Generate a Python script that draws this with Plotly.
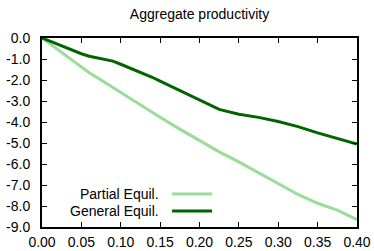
import plotly.graph_objects as go

x_vals = [0.0, 0.025, 0.05, 0.06, 0.075, 0.09, 0.10, 0.125, 0.14, 0.15, 0.175, 0.2, 0.225, 0.25, 0.275, 0.3, 0.325, 0.35, 0.375, 0.4]
partial = [0.0, -0.70, -1.40, -1.65, -2.00, -2.36, -2.60, -3.17, -3.53, -3.77, -4.34, -4.90, -5.42, -5.90, -6.43, -6.95, -7.45, -7.87, -8.20, -8.65]
general = [0.0, -0.38, -0.75, -0.87, -0.98, -1.10, -1.25, -1.62, -1.87, -2.05, -2.50, -2.98, -3.40, -3.63, -3.78, -3.98, -4.22, -4.52, -4.80, -5.05]

names = ["Partial Equil.", "General Equil."]
colors = ["#99dd99", "#006400"]

x_ticks = [0.0, 0.05, 0.10, 0.15, 0.20, 0.25, 0.30, 0.35, 0.40]
y_ticks = [0, -1, -2, -3, -4, -5, -6, -7, -8, -9]

fig = go.Figure()
for name, ys, c in zip(names, [partial, general], colors):
    fig.add_trace(go.Scatter(x=x_vals, y=ys, mode="lines", name=name,
                             line=dict(color=c, width=3), showlegend=False))

font = dict(family="Liberation Sans, Arial, sans-serif", size=14, color="black")
axis_common = dict(showline=True, linecolor="black", linewidth=2, mirror="ticks",
                   ticks="inside", ticklen=5, tickwidth=1, tickcolor="black",
                   showgrid=False, zeroline=False, tickfont=font, automargin=False)

fig.update_xaxes(range=[0, 0.4], tickvals=x_ticks, ticklabelstandoff=1,
                 ticktext=[f"{v:.2f}" for v in x_ticks], **axis_common)
fig.update_yaxes(range=[-9, 0], tickvals=y_ticks, ticklabelstandoff=7,
                 ticktext=[f"{v:.1f}" if v != 0 else "0.0" for v in y_ticks], **axis_common)

# legend (text right-aligned, line sample on the right)
leg_y = [0.175, 0.085]
for name, c, yy in zip(names, colors, leg_y):
    fig.add_annotation(x=0.378, y=yy, xref="paper", yref="paper", text=name,
                       showarrow=False, xanchor="right", yanchor="middle", font=font)
    fig.add_shape(type="line", xref="paper", yref="paper",
                  x0=0.413, x1=0.54, y0=yy, y1=yy, line=dict(color=c, width=3))

fig.update_layout(
    width=374, height=251,
    margin=dict(l=42, r=17, t=38, b=24),
    paper_bgcolor="white", plot_bgcolor="white",
    title=dict(text="Aggregate productivity", x=0.5, xref="paper", xanchor="center",
               y=0.945, yanchor="middle", font=font, automargin=False),
    font=font,
)

fig.write_html("out.html", config={"displayModeBar": False},
               post_script="document.body.style.margin='0';document.body.style.padding='0';document.body.style.overflow='hidden';")
